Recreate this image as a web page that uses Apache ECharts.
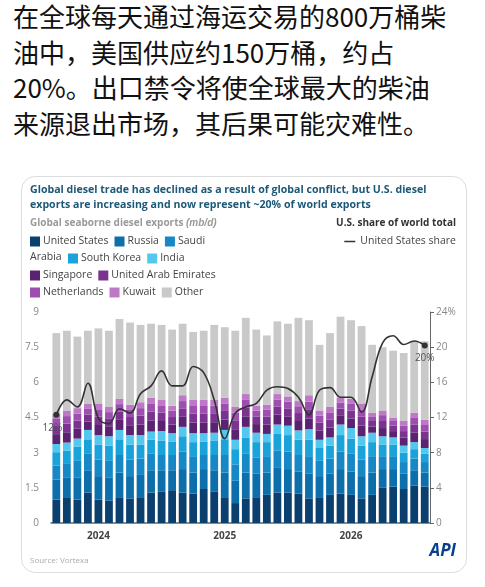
<!DOCTYPE html>
<html><head><meta charset="utf-8">
<script src="https://cdn.jsdelivr.net/npm/echarts@6/dist/echarts.min.js"></script>
<style>
body{margin:0;background:#fff;width:485px;height:587px;overflow:hidden;font-family:"Noto Sans CJK SC","Noto Sans",sans-serif}
#txt{position:absolute;left:13px;top:-2px;width:475px;font-size:26px;line-height:35.5px;color:#111;white-space:nowrap}
#box{position:absolute;left:21px;top:176px;width:444px;height:395px;border:1px solid #ddd;border-radius:14px;overflow:hidden}
#c{width:444px;height:395px}
</style></head><body>
<div id="txt">在全球每天通过海运交易的800万桶柴<br>油中，美国供应约150万桶，约占<br>20%。出口禁令将使全球最大的柴油<br>来源退出市场，其后果可能灾难性。</div>
<div id="box"><div id="c"></div></div>
<script>
const categories=[];
['2023-09','2023-10','2023-11','2023-12'].forEach(m=>categories.push(m));
for(const y of ['2024','2025']){for(let m=1;m<=12;m++)categories.push(y+'-'+String(m).padStart(2,'0'));}
for(let m=1;m<=8;m++)categories.push('2026-'+String(m).padStart(2,'0'));
const unitedStates=[1.0,1.1,1.0,1.3,1.0,0.95,1.1,1.05,1.1,1.3,1.35,1.4,1.3,1.25,1.45,1.35,1.1,0.85,1.05,1.1,1.2,1.3,1.3,1.25,1.05,1.1,1.2,1.25,1.2,1.05,1.2,1.5,1.55,1.45,1.6,1.55];
const russia=[0.85,0.85,0.95,0.95,1.0,1.0,1.05,0.95,0.95,0.95,0.9,0.85,1.0,0.9,0.85,0.9,1.05,0.95,1.1,1.0,0.95,1.05,1.0,0.95,1.05,0.9,0.9,1.05,1.0,0.95,0.95,0.8,0.75,0.65,0.65,0.6];
const saudiArabia=[0.6,0.6,0.7,0.7,0.7,0.7,0.75,0.7,0.7,0.7,0.65,0.65,0.75,0.7,0.6,0.65,0.75,0.7,0.8,0.7,0.7,0.75,0.75,0.7,0.75,0.65,0.65,0.75,0.75,0.7,0.7,0.55,0.55,0.5,0.5,0.45];
const southKorea=[0.57,0.53,0.6,0.62,0.65,0.65,0.67,0.65,0.6,0.6,0.62,0.58,0.65,0.6,0.58,0.6,0.67,0.65,0.7,0.65,0.6,0.7,0.7,0.65,0.7,0.55,0.55,0.7,0.65,0.6,0.6,0.5,0.5,0.4,0.4,0.35];
const india=[0.35,0.35,0.35,0.4,0.4,0.4,0.4,0.4,0.4,0.35,0.4,0.35,0.4,0.38,0.35,0.35,0.4,0.4,0.45,0.4,0.35,0.4,0.4,0.4,0.45,0.35,0.35,0.45,0.45,0.4,0.4,0.35,0.3,0.3,0.3,0.25];
const singapore=[0.42,0.44,0.42,0.36,0.43,0.4,0.43,0.42,0.45,0.46,0.43,0.37,0.43,0.45,0.45,0.45,0.44,0.45,0.45,0.37,0.4,0.42,0.4,0.4,0.46,0.4,0.42,0.37,0.4,0.45,0.27,0.35,0.27,0.34,0.4,0.38];
const uae=[0.35,0.37,0.35,0.3,0.36,0.34,0.36,0.35,0.38,0.39,0.36,0.32,0.36,0.38,0.38,0.38,0.37,0.38,0.38,0.31,0.34,0.35,0.34,0.34,0.39,0.34,0.35,0.31,0.34,0.38,0.23,0.3,0.23,0.28,0.34,0.32];
const netherlands=[0.3,0.32,0.3,0.26,0.31,0.29,0.31,0.3,0.32,0.33,0.31,0.27,0.31,0.33,0.33,0.32,0.32,0.32,0.32,0.26,0.29,0.3,0.29,0.29,0.33,0.29,0.3,0.26,0.29,0.32,0.2,0.25,0.2,0.24,0.29,0.28];
const kuwait=[0.23,0.24,0.23,0.21,0.25,0.22,0.23,0.23,0.25,0.27,0.23,0.21,0.25,0.26,0.26,0.25,0.25,0.25,0.25,0.21,0.22,0.23,0.22,0.22,0.27,0.22,0.23,0.21,0.22,0.25,0.15,0.2,0.15,0.19,0.22,0.22];
const other=[3.43,3.4,3.05,3.1,3.2,3.25,3.4,3.5,3.3,3.15,3.2,3.25,3.05,2.9,2.95,3.2,3.0,3.25,3.25,3.25,2.95,3.1,3.1,3.55,3.2,2.8,3.15,3.45,3.35,3.3,2.9,2.7,2.85,2.9,3.05,3.35];
const usShare=[12.3,14,13.2,15.9,11.9,11.3,13,12.5,14.7,15.6,17.3,15.6,15.6,17.8,17.1,14,9.6,12.5,13.2,13.6,15.1,15.5,15.3,14.3,12.3,15.1,15.4,14.3,14.3,12.6,16.6,20.5,21.3,20.3,20.7,20.2];
const leftTicks=['0','1.5','3','4.5','6','7.5','9'];
const rightTicks=['0','4','8','12','16','20','24%'];

const stacks=[
 ['United States',unitedStates,'#0b3f6e'],['Russia',russia,'#0d6eac'],['Saudi Arabia',saudiArabia,'#1688c6'],
 ['South Korea',southKorea,'#1aa2db'],['India',india,'#52c8ef'],['Singapore',singapore,'#5b2270'],
 ['United Arab Emirates',uae,'#7a338f'],['Netherlands',netherlands,'#9c4fae'],['Kuwait',kuwait,'#bd78c6'],['Other',other,'#c9c9c9']];
const series=stacks.map(s=>({name:s[0],type:'bar',stack:'a',data:s[1],itemStyle:{color:s[2]},barCategoryGap:'26%'}));
const last=usShare.length-1;
series.push({name:'United States share',type:'line',yAxisIndex:1,data:usShare,smooth:0.4,symbol:'circle',symbolSize:(v,p)=>(p.dataIndex===0||p.dataIndex===last)?6:0,
 lineStyle:{color:'#333',width:1.6},itemStyle:{color:'#333'},z:5,
 label:{show:true,position:'bottom',color:'#555',fontSize:10,formatter:p=>(p.dataIndex===0||p.dataIndex===last)?Math.round(p.value)+'%':''},
 labelLayout:p=>p.dataIndex===0?{dx:-4}:{dx:0}});
const lg=(names,x,y)=>({left:x,top:y,itemWidth:10,itemHeight:10,itemGap:6,icon:'rect',padding:0,data:names,
 textStyle:{fontSize:10.5,color:'#444',padding:[0,0,0,-2]},formatter:n=>n==='Saudi Arabia'?'Saudi':n,selectedMode:false});
const chart=echarts.init(document.getElementById('c'));
chart.setOption({
 animation:false,
 textStyle:{fontFamily:'Open Sans'},
 grid:{left:27,right:36,top:135,bottom:49},
 graphic:[
  {type:'text',left:8,top:5,style:{text:'Global diesel trade has declined as a result of global conflict, but U.S. diesel\nexports are increasing and now represent ~20% of world exports',fill:'#1c5878',fontWeight:'bold',fontSize:10.6,lineHeight:15,fontFamily:'Open Sans'}},
  {type:'text',left:8,top:41,style:{text:'Global seaborne diesel exports {i|(mb/d)}',fill:'#9a9a9a',fontWeight:'bold',fontSize:10,fontFamily:'Open Sans',rich:{i:{fontStyle:'italic',fill:'#9a9a9a',fontWeight:'bold',fontSize:10}}}},
  {type:'text',right:10,top:41,style:{text:'U.S. share of world total',fill:'#333',fontWeight:'bold',fontSize:10,fontFamily:'Open Sans'}},
  {type:'text',left:8,top:75,style:{text:'Arabia',fill:'#444',fontSize:10.5,fontFamily:'Open Sans'}},
  {type:'text',left:8,top:380,style:{text:'Source: Vortexa',fill:'#aaa',fontSize:8,fontFamily:'Open Sans'}},
  {type:'text',right:10,top:366,style:{text:'API',fill:'#0b3f8c',fontWeight:'bold',fontStyle:'italic',fontSize:17,fontFamily:'Open Sans'}}
 ],
 legend:[
  lg(['United States','Russia','Saudi Arabia'],8,59),
  lg(['South Korea','India'],46,76),
  lg(['Singapore','United Arab Emirates'],8,93),
  lg(['Netherlands','Kuwait','Other'],8,110),
  {right:10,top:59,padding:0,data:[{name:'United States share',icon:'rect'}],itemWidth:11,itemHeight:1.5,itemGap:4,selectedMode:false,textStyle:{fontSize:10.5,color:'#444'}}
 ],
 xAxis:{type:'category',data:categories,axisTick:{show:false},axisLine:{lineStyle:{color:'#666',width:1.5}},
  axisLabel:{interval:0,color:'#444',fontWeight:'bold',fontSize:10,margin:8,formatter:v=>v.endsWith('-01')?v.slice(0,4):''}},
 yAxis:[
  {type:'value',min:0,max:9,interval:1.5,splitLine:{show:false},axisLine:{show:false},axisTick:{show:false},
   axisLabel:{color:'#888',fontSize:10,margin:12,formatter:(v,i)=>leftTicks[i]}},
  {type:'value',min:0,max:24,interval:4,splitLine:{show:false},axisLine:{show:true,lineStyle:{color:'#666'}},axisTick:{show:true,length:4,lineStyle:{color:'#666'}},
   axisLabel:{color:'#888',fontSize:10,margin:6,formatter:(v,i)=>rightTicks[i]}}
 ],
 series
});
</script></body></html>
